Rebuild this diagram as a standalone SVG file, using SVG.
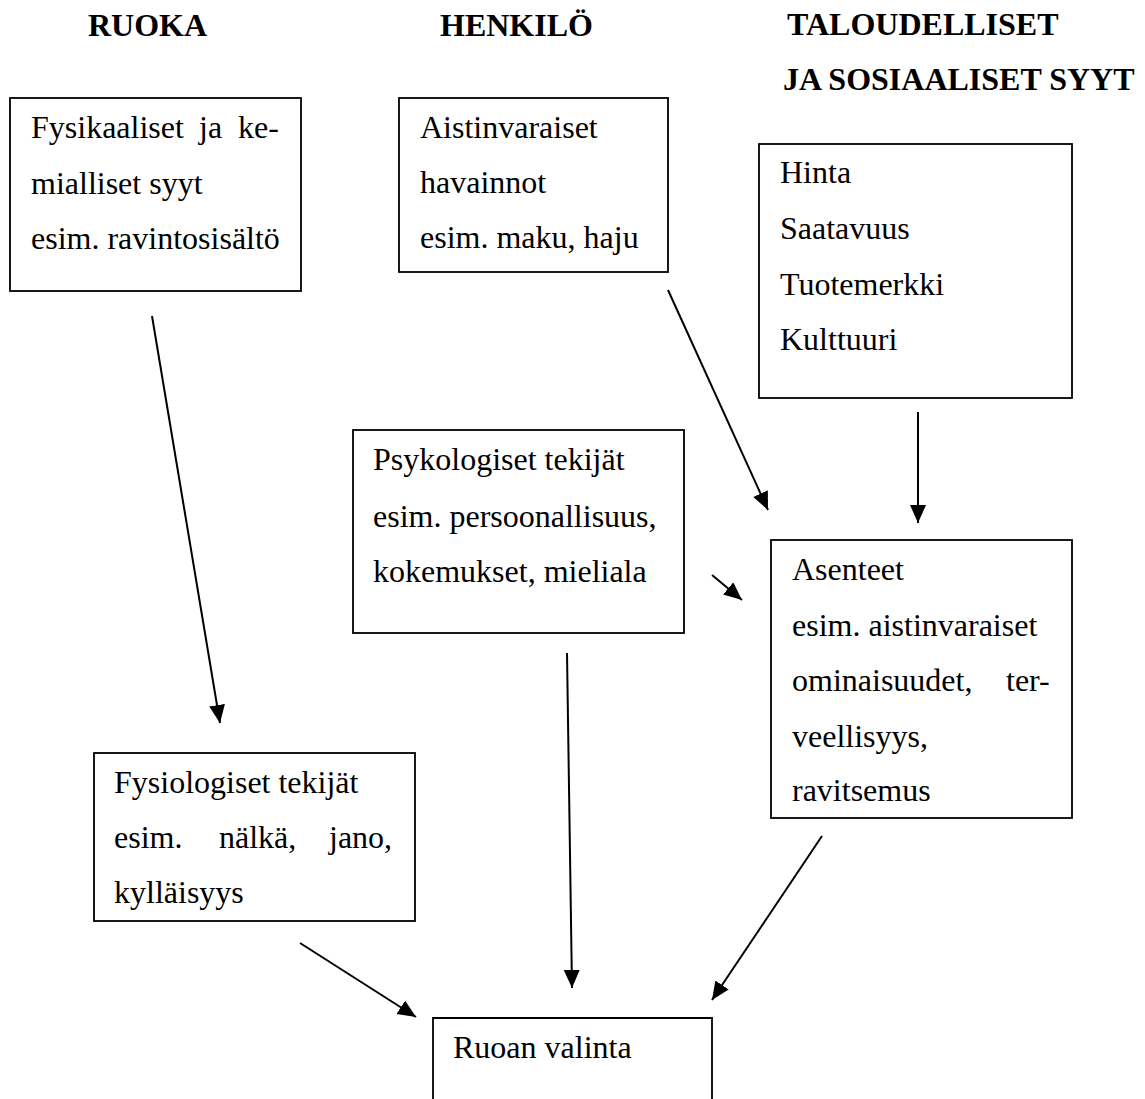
<svg xmlns="http://www.w3.org/2000/svg" width="1145" height="1099" viewBox="0 0 1145 1099">
<style>
.h{font-family:"Liberation Serif","Times New Roman",serif;font-size:32px;font-weight:bold;fill:#000}
.t{font-family:"Liberation Serif","Times New Roman",serif;font-size:32px;fill:#000}
.b{fill:#fff;stroke:#000;stroke-width:1.8}
.c{stroke:#000;stroke-width:2;fill:none}
</style>
<defs>
<marker id="ah" markerUnits="userSpaceOnUse" markerWidth="20" markerHeight="18" refX="18" refY="8" orient="auto">
<path d="M0,0 L18,8 L0,16 Z" fill="#000"/>
</marker>
</defs>
<rect width="1145" height="1099" fill="#fff"/>
<g id="headers">
<text class="h" x="88" y="36">RUOKA</text>
<text class="h" x="440" y="36">HENKILÖ</text>
<text class="h" x="787" y="35">TALOUDELLISET</text>
<text class="h" x="783" y="90">JA SOSIAALISET SYYT</text>
</g>
<g id="fysikaaliset">
<rect class="b" x="10" y="98" width="291" height="193"/>
<text class="t" x="31" y="138">Fysikaaliset</text>
<text class="t" x="199" y="138">ja</text>
<text class="t" x="238" y="138">ke-</text>
<text class="t" x="31" y="194">mialliset syyt</text>
<text class="t" x="31" y="249">esim. ravintosisältö</text>
</g>
<g id="aistinvaraiset">
<rect class="b" x="399" y="98" width="269" height="174"/>
<text class="t" x="420" y="138">Aistinvaraiset</text>
<text class="t" x="420" y="193">havainnot</text>
<text class="t" x="420" y="248">esim. maku, haju</text>
</g>
<g id="hinta">
<rect class="b" x="759" y="144" width="313" height="254"/>
<text class="t" x="780" y="183">Hinta</text>
<text class="t" x="780" y="239">Saatavuus</text>
<text class="t" x="780" y="295">Tuotemerkki</text>
<text class="t" x="780" y="350">Kulttuuri</text>
</g>
<g id="psykologiset">
<rect class="b" x="353" y="430" width="331" height="203"/>
<text class="t" x="373" y="470">Psykologiset tekijät</text>
<text class="t" x="373" y="527">esim. persoonallisuus,</text>
<text class="t" x="373" y="582">kokemukset, mieliala</text>
</g>
<g id="asenteet">
<rect class="b" x="771" y="540" width="301" height="278"/>
<text class="t" x="792" y="580">Asenteet</text>
<text class="t" x="792" y="636">esim. aistinvaraiset</text>
<text class="t" x="792" y="691">ominaisuudet,</text>
<text class="t" x="1006" y="691">ter-</text>
<text class="t" x="792" y="747">veellisyys,</text>
<text class="t" x="792" y="801">ravitsemus</text>
</g>
<g id="fysiologiset">
<rect class="b" x="94" y="753" width="321" height="168"/>
<text class="t" x="114" y="793">Fysiologiset tekijät</text>
<text class="t" x="114" y="848">esim.</text>
<text class="t" x="219" y="848">nälkä,</text>
<text class="t" x="329" y="848">jano,</text>
<text class="t" x="114" y="903">kylläisyys</text>
</g>
<g id="ruoanvalinta">
<path class="b" d="M433,1099 V1018 H712 V1099"/>
<text class="t" x="453" y="1058">Ruoan valinta</text>
</g>
<g id="connectors">
<line class="c" x1="152" y1="316" x2="220" y2="723" marker-end="url(#ah)"/>
<line class="c" x1="668" y1="290" x2="768" y2="510" marker-end="url(#ah)"/>
<line class="c" x1="918" y1="412" x2="918" y2="523" marker-end="url(#ah)"/>
<line class="c" x1="712" y1="575" x2="742" y2="600" marker-end="url(#ah)"/>
<line class="c" x1="567" y1="653" x2="572" y2="988" marker-end="url(#ah)"/>
<line class="c" x1="300" y1="943" x2="416" y2="1017" marker-end="url(#ah)"/>
<line class="c" x1="822" y1="836" x2="712" y2="1000" marker-end="url(#ah)"/>
</g>
</svg>
